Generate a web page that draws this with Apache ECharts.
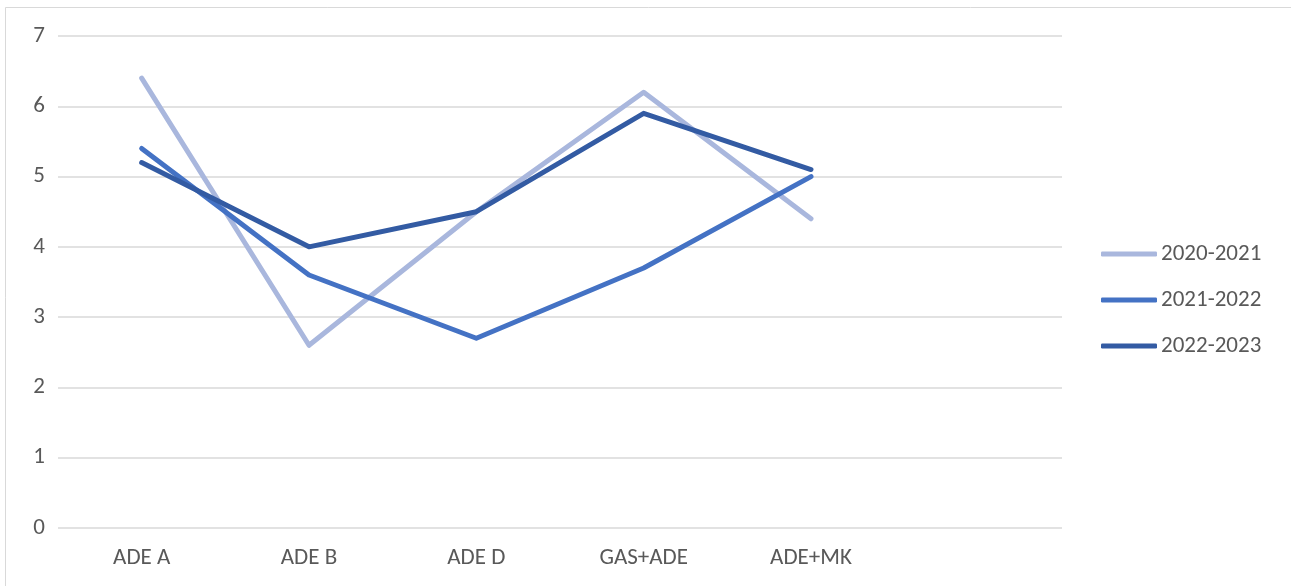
<!DOCTYPE html>
<html>
<head>
<meta charset="utf-8">
<script src="https://cdn.jsdelivr.net/npm/echarts@6/dist/echarts.min.js"></script>
<style>
  html, body { margin: 0; padding: 0; background: #ffffff; }
  #chart { width: 1291px; height: 586px; }
</style>
</head>
<body>
<div id="chart"></div>
<script>
// Categories (the last slot is an empty category on the axis)
const categories = ['ADE A', 'ADE B', 'ADE D', 'GAS+ADE', 'ADE+MK', ''];

// Values per season
const season2020 = [6.4, 2.6, 4.5, 6.2, 4.4];
const season2021 = [5.4, 3.6, 2.7, 3.7, 5.0];
const season2022 = [5.2, 4.0, 4.5, 5.9, 5.1];

const seriesNames = ['2020-2021', '2021-2022', '2022-2023'];
const seriesValues = [season2020, season2021, season2022];
const seriesColors = ['#A9B7DD', '#4472C4', '#335BA3'];

const textColor = '#595959';
const fontFamily = 'Calibri, Carlito, "Open Sans", "Liberation Sans", sans-serif';

const chart = echarts.init(document.getElementById('chart'), null, { renderer: 'canvas' });

chart.setOption({
  backgroundColor: '#ffffff',
  animation: false,
  textStyle: { fontFamily: fontFamily, color: textColor },
  graphic: [{
    type: 'rect',
    shape: { x: 5.5, y: 7.5, width: 1300, height: 600 },
    style: { fill: 'none', stroke: '#d9d9d9', lineWidth: 1 },
    silent: true,
    z: -1
  }],
  grid: { left: 58, right: 229, top: 36, bottom: 58, containLabel: false },
  legend: {
    orient: 'vertical',
    left: 1101,
    top: 240,
    padding: 0,
    itemWidth: 56,
    itemHeight: 5,
    itemGap: 18,
    icon: 'roundRect',
    textStyle: { fontSize: 23, color: textColor, fontFamily: fontFamily, lineHeight: 28, padding: [0, 0, 0, -1] },
    data: seriesNames
  },
  xAxis: {
    type: 'category',
    data: categories,
    boundaryGap: true,
    axisLine: { show: false },
    axisTick: { show: false },
    axisLabel: { color: textColor, fontSize: 23, fontFamily: fontFamily, margin: 19, interval: 0 }
  },
  yAxis: {
    type: 'value',
    min: 0,
    max: 7,
    interval: 1,
    axisLine: { show: false },
    axisTick: { show: false },
    axisLabel: { color: textColor, fontSize: 23, fontFamily: fontFamily, margin: 13 },
    splitLine: { lineStyle: { color: '#d9d9d9', width: 1.5 } }
  },
  series: seriesNames.map((name, i) => ({
    name: name,
    type: 'line',
    data: seriesValues[i],
    symbol: 'none',
    color: seriesColors[i],
    lineStyle: { width: 5, color: seriesColors[i], cap: 'round', join: 'round' },
    z: 2 + i
  }))
});
</script>
</body>
</html>
